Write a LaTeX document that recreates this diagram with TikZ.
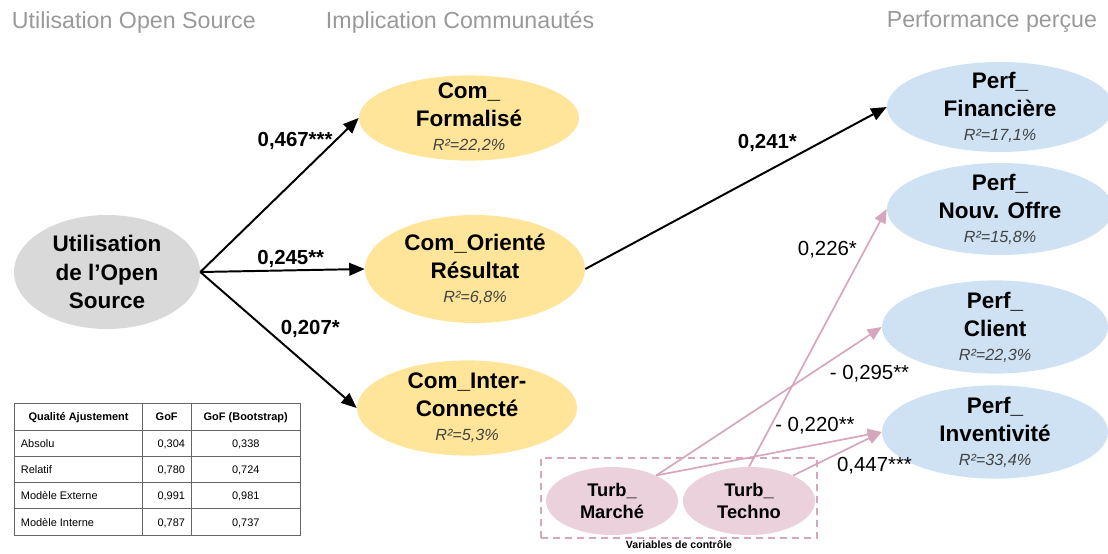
\documentclass[tikz,border=0pt]{standalone}
\usepackage{fontspec}
\setmainfont{Liberation Sans}
\usepackage{array,colortbl}
\usetikzlibrary{shapes.geometric,arrows.meta,positioning}
\definecolor{usegray}{RGB}{217,217,217}
\definecolor{comyellow}{RGB}{255,229,153}
\definecolor{perfblue}{RGB}{207,226,243}
\definecolor{ctrlpink}{RGB}{234,209,220}
\definecolor{ctrlline}{RGB}{213,166,189}
\definecolor{headgray}{RGB}{153,153,153}
\definecolor{rsqgray}{RGB}{67,67,67}
\definecolor{tablegray}{RGB}{102,102,102}
\tikzset{
  latent/.style={
    ellipse,
    inner xsep=0pt,
    inner ysep=-7pt,
    align=center,
    font=\fontsize{16}{20}\selectfont\bfseries
  },
  latent-use/.style={latent, fill=usegray, minimum width=4.65cm, minimum height=2.85cm},
  latent-com/.style={latent, fill=comyellow, minimum width=5.5cm},
  latent-perf/.style={latent, fill=perfblue, minimum width=5.65cm},
  latent-ctrl/.style={latent, fill=ctrlpink, minimum width=3.3cm, minimum height=1.7cm,
    font=\fontsize{13}{16}\selectfont\bfseries},
  path-main/.style={draw=black, line width=1.4pt, -{Triangle[length=11pt,width=9pt]}},
  path-ctrl/.style={draw=ctrlline, line width=1.2pt, -{Triangle[length=10pt,width=8.5pt]}},
  coef-main/.style={font=\fontsize{14.5}{17}\selectfont\bfseries, inner sep=1pt},
  coef-ctrl/.style={font=\fontsize{14.5}{17}\selectfont, inner sep=1pt},
  heading/.style={font=\fontsize{16.5}{20}\selectfont, text=headgray},
  ctrl-box/.style={draw=ctrlline, line width=1pt, dash pattern=on 5pt off 3.5pt}
}
\newcommand{\rsq}[1]{\\[-3pt]{\fontsize{11.5}{14}\selectfont\mdseries\itshape\color{rsqgray}R²=#1\%}}
\newcommand{\rowstrut}{\rule[-6.2pt]{0pt}{18pt}}

\begin{document}
\begin{tikzpicture}[x=0.025cm, y=-0.025cm]
  \useasboundingbox (0,0) rectangle (1108,553);
  % column headings
  \node[heading, anchor=west] (head-use) at (7,22) {Utilisation Open Source};
  \node[heading, anchor=west] (head-com) at (321,22) {Implication Communautés};
  \node[heading, anchor=east] (head-perf) at (1102,22) {Performance perçue};
  % latent variables
  \node[latent-use] (oss-use) at (107,272) {Utilisation\\de l’Open\\Source};
  \node[latent-com, minimum height=2.13cm] (com-formal) at (469,118) {Com\_\\Formalisé\rsq{22,2}};
  \node[latent-com, minimum height=2.7cm] (com-result) at (475,269) {Com\_Orienté\\Résultat\rsq{6,8}};
  \node[latent-com, minimum height=2.38cm] (com-inter) at (467,408) {Com\_Inter-\\Connecté\rsq{5,3}};
  \node[latent-perf, minimum height=2.25cm] (perf-fin) at (1000,107) {Perf\_\\Financière\rsq{17,1}};
  \node[latent-perf, minimum height=2.3cm] (perf-offer) at (1000,209) {Perf\_\\Nouv. Offre\rsq{15,8}};
  \node[latent-perf, minimum height=2.33cm] (perf-client) at (995,327) {Perf\_\\Client\rsq{22,3}};
  \node[latent-perf, minimum height=2.33cm] (perf-invent) at (995,432) {Perf\_\\Inventivité\rsq{33,4}};
  % control variables
  \node[ctrl-box, minimum width=6.9cm, minimum height=2cm] (ctrl) at (679,498) {};
  \node[below=1pt of ctrl, inner sep=0pt, font=\fontsize{7.5}{9}\selectfont\bfseries] (ctrl-label) {Variables de contrôle};
  \node[latent-ctrl] (turb-market) at (612,501) {Turb\_\\Marché};
  \node[latent-ctrl] (turb-techno) at (749,501) {Turb\_\\Techno};
  % structural paths
  \draw[path-main] (oss-use.east) -- (com-formal.west)
    node[coef-main, pos=0.85, anchor=east] {0,467***};
  \draw[path-main] (oss-use.east) -- (com-result.west)
    node[coef-main, pos=0.55, anchor=south] {0,245**};
  \draw[path-main] (oss-use.east) -- (com-inter.west)
    node[coef-main, pos=0.5, anchor=south west] {0,207*};
  \draw[path-main] (com-result.east) -- (perf-fin.west)
    node[coef-main, pos=0.71, anchor=south east] {0,241*};
  % control paths
  \draw[path-ctrl] (turb-techno.north) -- (perf-offer.west)
    node[coef-ctrl, pos=0.8, anchor=south east] {0,226*};
  \draw[path-ctrl] (turb-market.30) -- (perf-client.west)
    node[coef-ctrl, pos=0.76, anchor=north west] {- 0,295**};
  \draw[path-ctrl] (turb-market.30) -- (perf-invent.west)
    node[coef-ctrl, pos=0.89, anchor=south east] {- 0,220**};
  \draw[path-ctrl] (turb-techno.30) -- (perf-invent.west)
    node[coef-ctrl, pos=0.47, anchor=north west] {0,447***};
  % goodness of fit
  \node[anchor=north west, inner sep=0pt, font=\fontsize{7.8}{9}\selectfont] (gof-table) at (14,403) {%
    \arrayrulecolor{tablegray}\setlength{\arrayrulewidth}{0.7pt}\setlength{\tabcolsep}{4pt}%
    \begin{tabular}{|>{\rowstrut}p{82pt}|>{\raggedleft\arraybackslash}p{26pt}|>{\centering\arraybackslash}p{69pt}|}
      \hline
      \multicolumn{1}{|c|}{\rowstrut\bfseries Qualité Ajustement} & \multicolumn{1}{c|}{\bfseries GoF} & \bfseries GoF (Bootstrap)\\ \hline
      Absolu & 0,304 & 0,338\\ \hline
      Relatif & 0,780 & 0,724\\ \hline
      Modèle Externe & 0,991 & 0,981\\ \hline
      Modèle Interne & 0,787 & 0,737\\ \hline
    \end{tabular}};
\end{tikzpicture}
\end{document}
